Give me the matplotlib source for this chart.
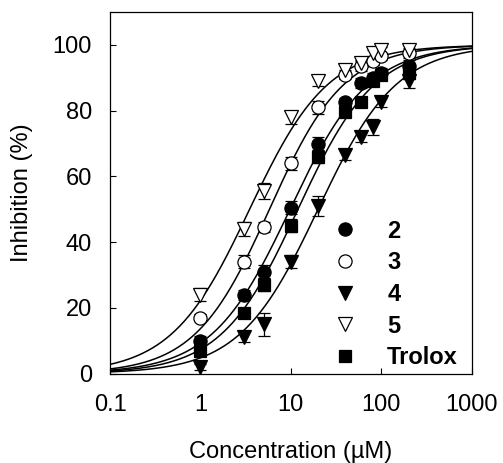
import numpy as np
import matplotlib
matplotlib.use("Agg")
import matplotlib.pyplot as plt

plt.rcParams["font.family"] = ["Liberation Sans", "DejaVu Sans"]

# concentrations (uM) and % inhibition
conc = [1, 3, 5, 10, 20, 40, 60, 80, 100, 200]

inh_2 = [10, 24, 31, 50.5, 70, 82.5, 88.5, 90, 91.5, 93.5]
err_2 = [1.5, 1.5, 2, 2, 2, 1.5, 1.5, 1.5, 1.5, 2]

inh_3 = [17, 34, 44.5, 64, 81, 91, 93.5, 95, 96.5, 97.5]
err_3 = [1, 2, 1.5, 2, 2, 1.5, 1.5, 1, 1, 1.5]

inh_4 = [2, 11, 15, 34, 51, 66.5, 72, 75, 82.5, 89]
err_4 = [1, 1.5, 3.5, 2, 3, 1.5, 1.5, 2.5, 1.5, 2]

inh_5 = [24, 44, 55.5, 78, 89, 92.5, 94.5, 97.5, 98.5, 98.5]
err_5 = [2, 2, 2.5, 2, 1.5, 1.5, 1, 1, 1, 1.5]

inh_trolox = [7, 18.5, 27, 45, 66, 79.5, 82.5, 89, 91, 91.5]
err_trolox = [1, 1, 2, 2, 2, 1.5, 1.5, 1.5, 1.5, 2]

# fitted Hill curves (IC50 in uM, slope) as drawn in the figure
ic50 = {"2": 9.8, "3": 5.8, "4": 20.0, "5": 3.5, "Trolox": 12.0}
hill = {"2": 1.0, "3": 1.05, "4": 1.0, "5": 1.0, "Trolox": 1.02}

series = [
    ("2", inh_2, err_2, "o", "black"),
    ("3", inh_3, err_3, "o", "white"),
    ("4", inh_4, err_4, "v", "black"),
    ("5", inh_5, err_5, "v", "white"),
    ("Trolox", inh_trolox, err_trolox, "s", "black"),
]

fig = plt.figure(figsize=(5.03, 4.63), dpi=100)
ax = fig.add_axes([0.2187, 0.1933, 0.7191, 0.7806])

xfit = np.logspace(-1, 3, 400)
for name, _, _, _, _ in series:
    yfit = 100.0 / (1.0 + (ic50[name] / xfit) ** hill[name])
    ax.plot(xfit, yfit, color="black", lw=1.1, zorder=1)

handles = []
for name, y, e, m, fc in series:
    ms = 9.5 if m != "s" else 8.5
    ax.errorbar(conc, y, yerr=e, fmt="none", ecolor="black", elinewidth=0.9,
                capsize=4, capthick=0.9, zorder=2)
    h, = ax.plot(conc, y, linestyle="none", marker=m, ms=ms, mfc=fc,
                 mec="black", mew=0.9, zorder=3, label=name)
    handles.append(h)

ax.set_xscale("log")
ax.set_xlim(0.1, 1000)
ax.set_ylim(0, 110)
ax.set_xticks([0.1, 1, 10, 100, 1000])
ax.set_xticklabels(["0.1", "1", "10", "100", "1000"])
ax.minorticks_off()
ax.set_yticks([0, 20, 40, 60, 80, 100])
ax.tick_params(direction="in", length=4, width=0.8, labelsize=17)
ax.tick_params(axis="x", pad=15)
ax.tick_params(axis="y", pad=13)
for s in ax.spines.values():
    s.set_linewidth(0.9)

ax.set_xlabel("Concentration (\u00b5M)", fontsize=17, labelpad=18)
ax.set_ylabel("Inhibition (%)", fontsize=17, labelpad=14)

ax.legend(handles=handles, loc="lower left", bbox_to_anchor=(0.59, -0.015),
          frameon=False, prop={"weight": "bold", "size": 17},
          handlelength=1.0, handletextpad=1.3, labelspacing=0.37,
          borderaxespad=0.0, numpoints=1)

fig.savefig("out.png", dpi=100)
